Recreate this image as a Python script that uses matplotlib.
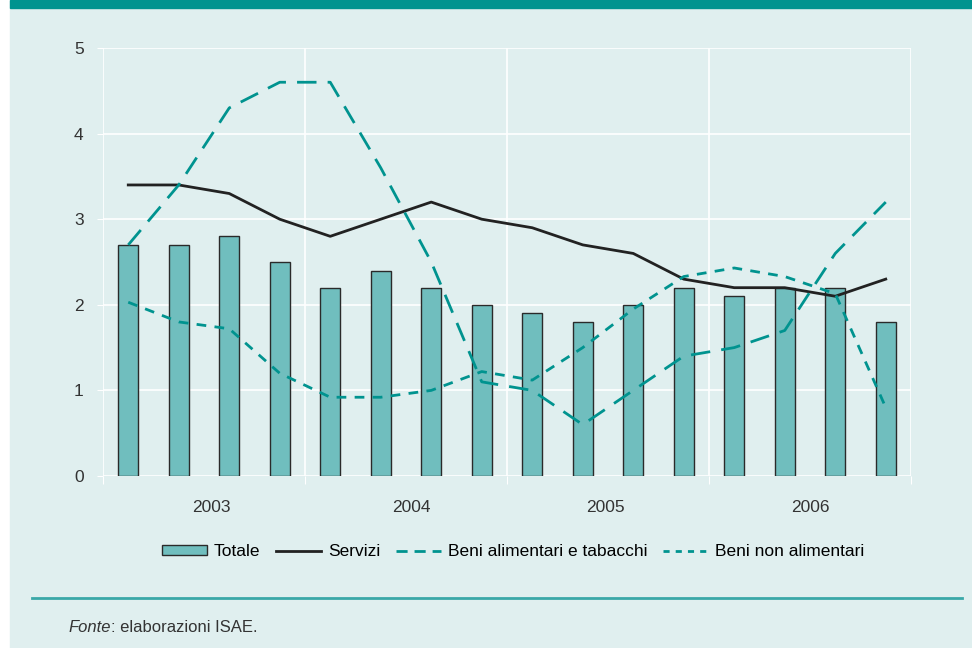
import matplotlib
matplotlib.use("Agg")
import matplotlib.pyplot as plt
from matplotlib.lines import Line2D
from matplotlib.patches import Patch, Rectangle
import numpy as np

# quarterly data 2003-2006
years = ["2003", "2004", "2005", "2006"]
totale = [2.7, 2.7, 2.8, 2.5, 2.2, 2.4, 2.2, 2.0, 1.9, 1.8, 2.0, 2.2, 2.1, 2.2, 2.2, 1.8]
servizi = [3.4, 3.4, 3.3, 3.0, 2.8, 3.0, 3.2, 3.0, 2.9, 2.7, 2.6, 2.3, 2.2, 2.2, 2.1, 2.3]
beni_alim = [2.7, 3.4, 4.3, 4.6, 4.6, 3.6, 2.5, 1.1, 1.0, 0.6, 1.0, 1.4, 1.5, 1.7, 2.6, 3.2]
beni_non_alim = [2.03, 1.8, 1.72, 1.2, 0.92, 0.92, 1.0, 1.22, 1.12, 1.5, 1.95, 2.33, 2.43, 2.33, 2.13, 0.8]

bg = "#e0efef"
teal = "#00938f"
bar_fill = "#70bebe"
txt = "#333333"
plt.rcParams['font.family'] = ['Liberation Sans', 'DejaVu Sans']

fig = plt.figure(figsize=(9.72, 6.48), dpi=100)
fig.patch.set_facecolor("white")
# light panel and top band
fig.add_artist(Rectangle((10/972, 0), 1, 1, transform=fig.transFigure, color=bg, zorder=0))
fig.add_artist(Rectangle((10/972, 1 - 8/648), 1, 8/648, transform=fig.transFigure, color=teal, zorder=1))

ax = fig.add_axes([103/972, 1 - 476/648, 808/972, 428/648])
ax.set_facecolor(bg)
x = np.arange(len(totale))

ax.bar(x, totale, width=0.4, color=bar_fill, edgecolor="#2a2a2a", linewidth=1.0, zorder=2)
ax.plot(x, servizi, color="#222222", lw=2.0, zorder=3)
ax.plot(x, beni_alim, color=teal, lw=2.0, dashes=(7, 4), zorder=3)
ax.plot(x, beni_non_alim, color=teal, lw=2.0, dashes=(3.5, 3), zorder=3)

ax.set_xlim(-0.5, 15.5)
ax.set_ylim(0, 5)
ax.set_yticks(range(6))
ax.set_xticks([-0.5, 3.5, 7.5, 11.5, 15.5])
ax.set_xticklabels([])
ax.set_xticks([1.65, 5.6, 9.45, 13.5], minor=True)
ax.set_xticklabels(years, minor=True)
ax.grid(True, color="white", lw=1.2, zorder=1)
ax.set_axisbelow(True)
for s in ax.spines.values():
    s.set_visible(False)
ax.tick_params(axis="y", colors="white", length=4, labelcolor=txt, labelsize=12.5, pad=10)
ax.tick_params(axis="x", which="major", length=6, colors="white")
ax.tick_params(axis="x", which="minor", length=0, labelcolor=txt, labelsize=12.5, pad=17)

handles = [Patch(facecolor=bar_fill, edgecolor="#2a2a2a"),
           Line2D([], [], color="#222222", lw=2),
           Line2D([], [], color=teal, lw=2, dashes=(4, 2.5)),
           Line2D([], [], color=teal, lw=2, dashes=(2.2, 2.2))]
labels = ["Totale", "Servizi", "Beni alimentari e tabacchi", "Beni non alimentari"]
fig.legend(handles, labels, loc="center", bbox_to_anchor=(513/972, 1 - 552/648), ncol=4,
           frameon=False, fontsize=12.5, handlelength=2.6, handleheight=0.5,
           handletextpad=0.4, columnspacing=0.9)

fig.add_artist(Line2D([32/972, 962/972], [1 - 598/648] * 2, transform=fig.transFigure, color="#3aa8a8", lw=2))
t = fig.text(68/972, 1 - 627/648, "Fonte", fontsize=12, color=txt, va="center", style="italic")
fig.canvas.draw()
bb = t.get_window_extent()
fig.text(bb.x1 / 972, 1 - 627/648, ": elaborazioni ISAE.", fontsize=12, color=txt, va="center")

fig.savefig("out.png", dpi=100, facecolor=fig.get_facecolor())
